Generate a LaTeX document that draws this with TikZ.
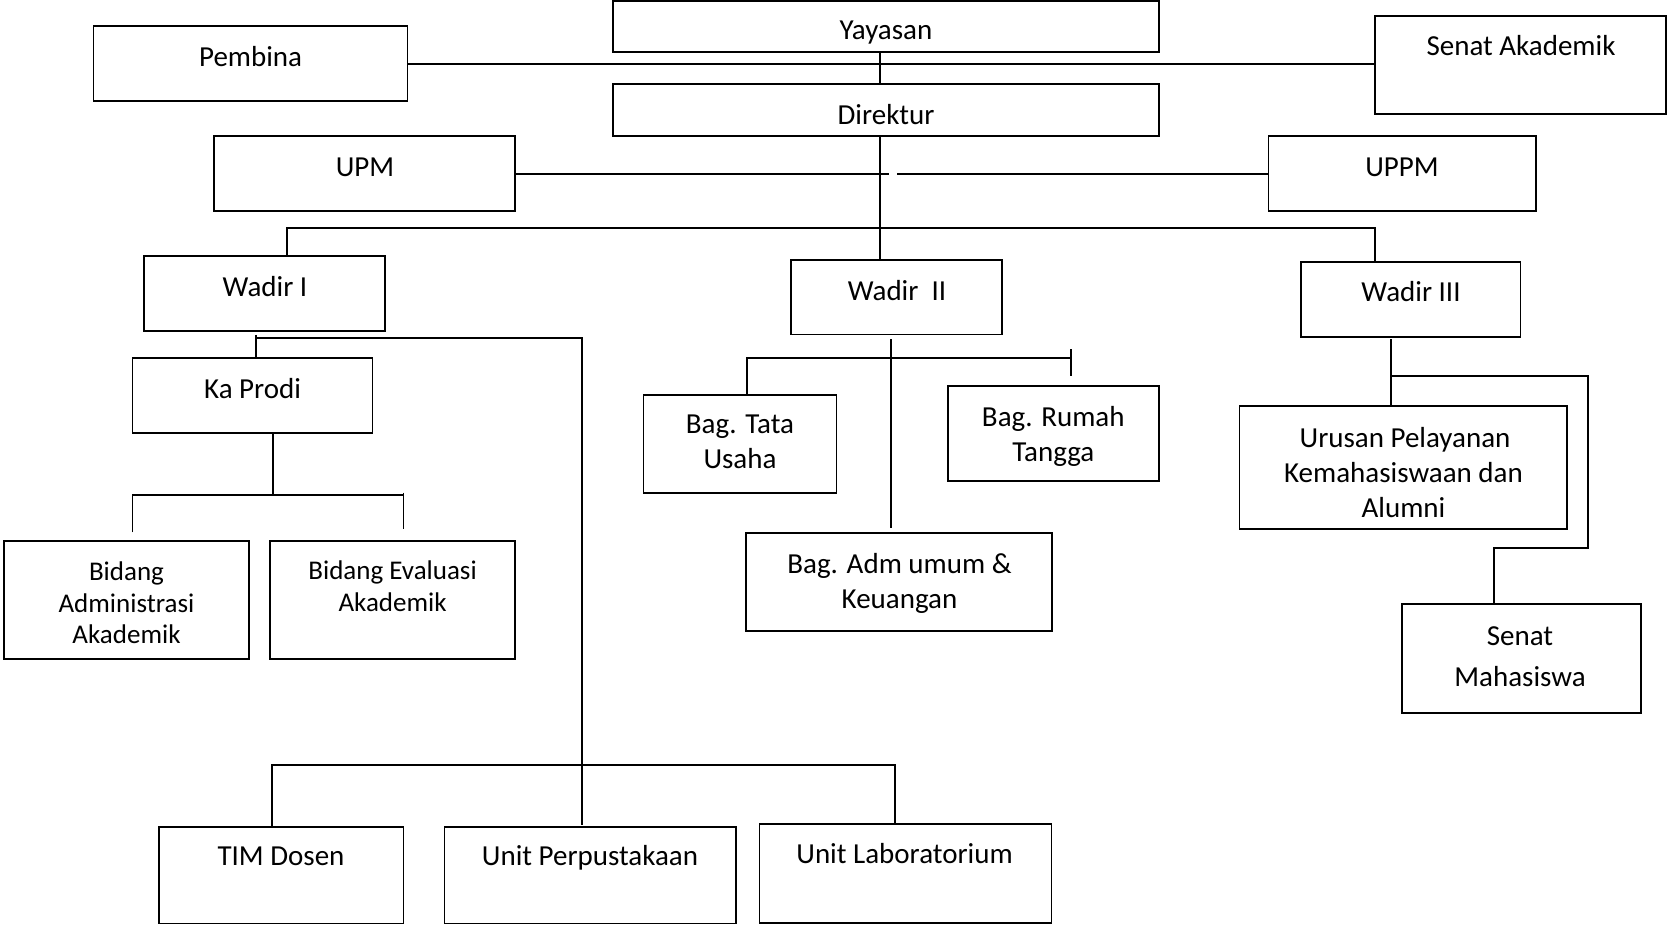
\documentclass[tikz,border=0pt]{standalone}
\usepackage{fontspec}
\setmainfont{Carlito}
\begin{document}
\begin{tikzpicture}[x=1pt,y=-1pt,
  box/.style={draw, line width=1.7pt, inner sep=0pt, outer sep=0pt},
  lbl/.style={anchor=base, inner sep=0pt, yshift=-2pt, font=\fontsize{29}{35}\selectfont},
  slbl/.style={lbl, font=\fontsize{27}{33}\selectfont},
  conn/.style={line width=1.7pt}]
\useasboundingbox (0,0) rectangle (1668,925);
% boxes
\node[box, minimum width=546pt, minimum height=51.6pt] (yayasan) at (886,26.5) {};
\node[box, minimum width=546pt, minimum height=52pt] (direktur) at (886,110.3) {};
\node[box, minimum width=314pt, minimum height=74.7pt] (pembina) at (250.6,63.35) {};
\node[box, minimum width=290.7pt, minimum height=98.3pt] (senat) at (1520.6,65.15) {};
\node[box, minimum width=301pt, minimum height=74.7pt] (upm) at (364.5,173.35) {};
\node[box, minimum width=267.5pt, minimum height=74.7pt] (uppm) at (1402.15,173.35) {};
\node[box, minimum width=241pt, minimum height=74.7pt] (wadir1) at (264.5,293.65) {};
\node[box, minimum width=211pt, minimum height=74.2pt] (wadir2) at (896.5,297.4) {};
\node[box, minimum width=219.4pt, minimum height=74.4pt] (wadir3) at (1410.7,299.5) {};
\node[box, minimum width=240pt, minimum height=75pt] (kaprodi) at (252.6,395.2) {};
\node[box, minimum width=245pt, minimum height=118pt] (bidadm) at (126.5,600) {};
\node[box, minimum width=245.2pt, minimum height=118pt] (bideval) at (392.4,600) {};
\node[box, minimum width=192.9pt, minimum height=98pt] (tata) at (740,443.7) {};
\node[box, minimum width=211pt, minimum height=95pt] (rumah) at (1053.3,433.5) {};
\node[box, minimum width=305.7pt, minimum height=98.3pt] (admumum) at (899.15,581.85) {};
\node[box, minimum width=327.3pt, minimum height=123pt] (urusan) at (1403.25,467.5) {};
\node[box, minimum width=239.1pt, minimum height=109.3pt] (senatmhs) at (1521.45,658.65) {};
\node[box, minimum width=244.3pt, minimum height=96.8pt] (tim) at (281.45,875.1) {};
\node[box, minimum width=291.4pt, minimum height=96.8pt] (perpus) at (590.1,875.1) {};
\node[box, minimum width=292.1pt, minimum height=98.7pt] (lab) at (905.45,873.35) {};
% texts
\node[lbl] (t-yayasan) at (886,38) {Yayasan};
\node[lbl] (t-direktur) at (886,123) {Direktur};
\node[lbl] (t-pembina) at (250.6,65) {Pembina};
\node[lbl] (t-senat) at (1521,54) {Senat Akademik};
\node[lbl] (t-upm) at (365,175) {UPM};
\node[lbl] (t-uppm) at (1402,175) {UPPM};
\node[lbl] (t-w1) at (265,295) {Wadir I};
\node[lbl] (t-w2) at (897,298.3) {Wadir\ \ II};
\node[lbl] (t-w3) at (1411,300) {Wadir III};
\node[lbl] (t-kaprodi) at (252.6,396.7) {Ka Prodi};
\node[slbl] (t-bidadm1) at (126.5,578.3) {Bidang};
\node[slbl] (t-bidadm2) at (126.5,610) {Administrasi};
\node[slbl] (t-bidadm3) at (126.5,641.7) {Akademik};
\node[slbl] (t-bideval1) at (392.6,577.7) {Bidang Evaluasi};
\node[slbl] (t-bideval2) at (392.6,609.3) {Akademik};
\node[lbl] (t-tata1) at (740,431.7) {Bag. Tata};
\node[lbl] (t-tata2) at (740,466.7) {Usaha};
\node[lbl] (t-rumah1) at (1053.3,424.3) {Bag. Rumah};
\node[lbl] (t-rumah2) at (1053.3,459.3) {Tangga};
\node[lbl] (t-adm1) at (899.5,571.7) {Bag. Adm umum \&};
\node[lbl] (t-adm2) at (899.5,606) {Keuangan};
\node[lbl] (t-urusan1) at (1405,445) {Urusan Pelayanan};
\node[lbl] (t-urusan2) at (1403.5,480) {Kemahasiswaan dan};
\node[lbl] (t-urusan3) at (1403.5,515) {Alumni};
\node[lbl] (t-smhs1) at (1520,643.3) {Senat};
\node[lbl] (t-smhs2) at (1520,684) {Mahasiswa};
\node[lbl] (t-tim) at (281,863.3) {TIM Dosen};
\node[lbl] (t-perpus) at (590,863.3) {Unit Perpustakaan};
\node[lbl] (t-lab) at (904.6,861.7) {Unit Laboratorium};
% connectors: top
\coordinate (yx) at (880,0);
\draw[conn] (yayasan.south -| yx) -- (direktur.north -| yx);
\draw[conn] (direktur.south -| yx) -- (wadir2.north -| yx);
\coordinate (py) at (0,64.3);
\draw[conn] (pembina.east |- py) -- (senat.west |- py);
\coordinate (uy) at (0,174);
\coordinate (gapL) at (889,174);
\coordinate (gapR) at (897,174);
\draw[conn] (upm.east |- uy) -- (gapL);
\draw[conn] (gapR) -- (uppm.west |- uy);
\coordinate (b1) at (287,228.3);
\coordinate (b3) at (1375.3,228.3);
\draw[conn] (wadir1.north -| b1) -- (b1) -- (b3) -- (wadir3.north -| b3);
% Wadir I
\coordinate (k0) at (256,335);
\coordinate (k1) at (256,338.3);
\coordinate (k2) at (582,338.3);
\coordinate (k3) at (582,825);
\draw[conn] (k0) -- (kaprodi.north -| k0);
\draw[conn] (k1) -- (k2) -- (k3);
% Ka Prodi
\coordinate (p0) at (273.2,495);
\coordinate (pl) at (132.6,495);
\coordinate (pr) at (403.6,495);
\coordinate (plb) at (132.6,532.3);
\coordinate (prt) at (403.6,492.7);
\coordinate (prb) at (403.6,529);
\draw[conn] (kaprodi.south -| p0) -- (p0);
\draw[conn] (plb) -- (pl) -- (pr);
\draw[conn] (prt) -- (prb);
% Wadir II
\coordinate (v0) at (891,339);
\coordinate (v1) at (891,528.3);
\draw[conn] (v0) -- (v1);
\coordinate (h0) at (746.8,357.7);
\coordinate (h1) at (1071.3,357.7);
\coordinate (h1t) at (1071.3,349);
\coordinate (h1b) at (1071.3,376);
\draw[conn] (tata.north -| h0) -- (h0) -- (h1);
\draw[conn] (h1t) -- (h1b);
% Wadir III
\coordinate (r0) at (1390.8,339);
\coordinate (r1) at (1390.8,376);
\coordinate (r2) at (1588,376);
\coordinate (r3) at (1588,548.3);
\coordinate (r4) at (1493.8,548.3);
\draw[conn] (r0) -- (urusan.north -| r0);
\draw[conn] (r1) -- (r2) -- (r3) -- (r4) -- (senatmhs.north -| r4);
% bottom
\coordinate (q0) at (272.2,765);
\coordinate (q1) at (895.3,765);
\draw[conn] (tim.north -| q0) -- (q0) -- (q1) -- (lab.north -| q1);
\end{tikzpicture}
\end{document}
